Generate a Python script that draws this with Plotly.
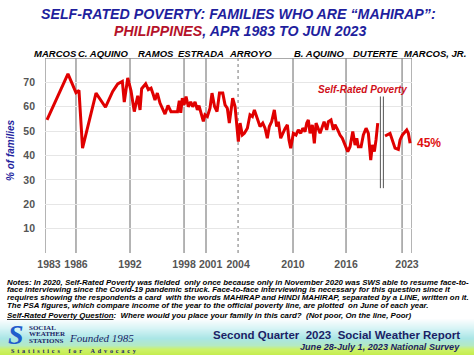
import plotly.graph_objects as go

# ---------------- data ----------------
years = [1983.47, 1985.77, 1986.65, 1986.98, 1987.37, 1988.85, 1989.89, 1990.68, 1991.23, 1991.74,
         1991.95, 1992.33, 1992.69, 1993.05, 1993.43, 1993.68, 1993.86, 1994.30, 1994.59, 1994.89,
         1995.14, 1995.32, 1995.58, 1995.87, 1996.42, 1996.75, 1997.08, 1997.41, 1997.79, 1997.99,
         1998.15, 1998.32, 1998.51, 1998.73, 1998.98, 1999.24, 1999.46, 1999.72, 1999.97, 2000.15,
         2000.37, 2000.63, 2000.81, 2001.07, 2001.36, 2001.58, 2001.86, 2002.13, 2002.40, 2002.76,
         2003.01, 2003.26, 2003.48, 2003.85, 2004.11, 2004.29, 2004.47, 2004.66, 2004.91, 2005.13,
         2005.46, 2005.75, 2006.01, 2006.23, 2006.49, 2006.85, 2007.15, 2007.40, 2007.65, 2007.87,
         2008.13, 2008.42, 2008.68, 2008.86, 2009.12, 2009.34, 2009.59, 2009.85, 2010.03, 2010.22,
         2010.51, 2010.80, 2011.05, 2011.32, 2011.54, 2011.79, 2011.98, 2012.15, 2012.34, 2012.59,
         2012.81, 2013.00, 2013.18, 2013.44, 2013.88, 2014.17, 2014.35, 2014.64, 2014.90, 2015.08,
         2015.38, 2015.63, 2015.88, 2016.18, 2016.48, 2016.73, 2017.03, 2017.28, 2017.47, 2017.64,
         2017.94, 2018.19, 2018.49, 2018.74, 2019.00, 2019.18, 2019.40, 2019.58, 2019.77, 2020.20,
         2020.57, 2021.12, 2021.67, 2022.03, 2022.22, 2022.47, 2022.95, 2023.13, 2023.32]

self_rated_poverty = [54.6, 73.5, 65.8, 66.7, 43, 65.6, 59.8, 66.3, 69.4, 70.4,
                      61.9, 71.8, 66.5, 58, 64.5, 58.7, 67.4, 69.4, 67, 67.6,
                      64.9, 62.8, 65.6, 61.5, 57, 60.5, 58, 58, 58, 62.5,
                      57.5, 63.5, 60.8, 64.2, 60, 62, 60, 62, 58.7, 60.5,
                      57.5, 54, 56.7, 56, 59.4, 65.6, 60.1, 58, 65.6, 65.6,
                      60.8, 59.4, 53.3, 63.5, 60.1, 52.6, 45.7, 53.3, 48.4, 49.1,
                      51.2, 56.7, 56, 58.7, 56, 51.9, 53.3, 51.2, 47.1, 51.9,
                      53.9, 58.7, 51.9, 53.9, 47.1, 49.1, 51, 52.6, 46.4, 43,
                      49.1, 48.4, 50.5, 49.1, 51.2, 49.8, 53.3, 54.6, 49.1, 52.6,
                      45, 53.3, 51.2, 49.1, 53.9, 50.5, 53.9, 54.6, 50.5, 52.6,
                      50.5, 48.4, 47.1, 44.3, 41.6, 43.6, 49.8, 44.3, 47.1, 43.6,
                      43.6, 48.4, 51.2, 49.1, 38.1, 44.3, 41.6, 46.4, 53.3, None,
                      48, 49.1, 43, 42.5, 46.4, 48.4, 50.5, 49.1, 45]

axis_start, axis_end = 1983.25, 2023.53
term_starts = [1986.65, 1992.58, 1998.51, 2000.92, 2010.47, 2016.29, 2022.44]
arroyo_second_term = 2004.44
covid_break = [2020.06, 2020.39]
covid_break_span = [26.6, 64.2]

tick_vals = [1983.69, 1986.65, 1992.58, 1998.51, 2001.42, 2004.44, 2010.47, 2016.29, 2022.98]
tick_text = ["1983", "1986", "1992", "1998", "2001", "2004", "2010", "2016", "2023"]
y_ticks = [10, 20, 30, 40, 50, 60, 70]

presidents = ["MARCOS", "C. AQUINO", "RAMOS", "ESTRADA", "ARROYO", "B. AQUINO", "DUTERTE", "MARCOS, JR."]
president_px = [55.5, 102.5, 156, 201, 250, 319, 375, 435]

notes = [
    "Notes: In 2020, Self-Rated Poverty was fielded  only once because only in November 2020 was SWS able to resume face-to-",
    "face interviewing since the Covid-19 pandemic struck. Face-to-face interviewing is necessary for this question since it",
    "requires showing the respondents a card  with the words MAHIRAP and HINDI MAHIRAP, separated by a LINE, written on it.",
    "The PSA figures, which compare income of the year to the official poverty line, are plotted  on June of each year.",
]

# ---------------- layout helpers ----------------
W, H = 474, 355
L, R, T, B = 45, 62, 58, 102
PW, PH = W - L - R, H - T - B
FONT = "Liberation Sans, Arial, sans-serif"
SERIF = "Liberation Serif, Times New Roman, serif"
RED = "#e00000"
BLUE = "#1f1f9e"
NAVY = "#1b1f66"


def px(x, y):
    return (x - L) / PW, (T + PH - y) / PH


annotations = []


def text(x, y, s, size, color="black", xanchor="center", family=FONT, yanchor="middle", angle=0):
    xp, yp = px(x, y)
    annotations.append(dict(x=xp, y=yp, xref="paper", yref="paper", text=s, showarrow=False,
                            xanchor=xanchor, yanchor=yanchor, textangle=angle,
                            font=dict(size=size, color=color, family=family)))


fig = go.Figure()
fig.add_trace(go.Scatter(x=years, y=self_rated_poverty, mode="lines",
                         line=dict(color=RED, width=3), connectgaps=False,
                         hoverinfo="skip", showlegend=False))

shapes = []
# presidency boxes
for xv in [axis_start] + term_starts + [axis_end]:
    shapes.append(dict(type="line", xref="x", yref="y", x0=xv, x1=xv, y0=0, y1=80,
                       line=dict(color="#8c8c8c", width=1.3), layer="below"))
shapes.append(dict(type="line", xref="x", yref="y", x0=axis_start, x1=axis_end, y0=80, y1=80,
                   line=dict(color="#8c8c8c", width=1.3), layer="below"))
shapes.append(dict(type="line", xref="x", yref="y", x0=arroyo_second_term, x1=arroyo_second_term,
                   y0=0, y1=80, line=dict(color="#8c8c8c", width=1.2, dash="dot"), layer="below"))
for xv in covid_break:
    shapes.append(dict(type="line", xref="x", yref="y", x0=xv, x1=xv,
                       y0=covid_break_span[0], y1=covid_break_span[1],
                       line=dict(color="#555555", width=1)))

# footer gradient band
stops = [(318, (255, 255, 255)), (328, (215, 244, 246)), (338, (170, 230, 230)),
         (345, (180, 234, 196)), (349, (205, 242, 105)), (355, (196, 236, 76))]
for i in range(len(stops) - 1):
    (y0, c0), (y1, c1) = stops[i], stops[i + 1]
    for yy in range(y0, y1):
        t = (yy - y0) / (y1 - y0)
        c = tuple(int(c0[k] + (c1[k] - c0[k]) * t) for k in range(3))
        a0 = px(0, yy + 1)
        a1 = px(W, yy)
        shapes.append(dict(type="rect", xref="paper", yref="paper", x0=a0[0], x1=a1[0],
                           y0=a0[1], y1=a1[1], fillcolor="rgb(%d,%d,%d)" % c,
                           line=dict(width=0), layer="below"))

# titles
text(238, 14, "<b><i>SELF-RATED POVERTY: FAMILIES WHO ARE “MAHIRAP”:</i></b>", 14.2, BLUE)
text(240, 31, "<b><i><span style='color:#b5122a'>PHILIPPINES</span>, APR 1983 TO JUN 2023</i></b>", 14.2, BLUE)

for name, xp in zip(presidents, president_px):
    text(xp, 53, "<b><i>" + name + "</i></b>", 9.5)

text(10, 150, "<b><i>% of families</i></b>", 10, BLUE, angle=-90)
text(362, 89, "<b><i>Self-Rated Poverty</i></b>", 10, "#d0101a")
text(415, 143, "<b>45%</b>", 12, "#e01010", xanchor="left")

for i, line in enumerate(notes):
    text(5, 282 + i * 7.7, "<b><i>" + line + "</i></b>", 7.9, xanchor="left")
text(5, 315.5, "<b><i><u>Self-Rated Poverty Question</u>:  Where would you place your family in this card?  "
     "(Not poor, On the line, Poor)</i></b>", 7.9, xanchor="left")

# footer
sep = "\u00a0\u2009"
motto = (sep + "\u00a0\u00a0" + sep).join(sep.join(word) for word in ["Statistics", "for", "Advocacy"])
text(16, 334, "<b><i>S</i></b>", 28, "#1f5ccc", family=SERIF)
text(27, 327.5, "<b>SOCIAL</b>", 7, NAVY, xanchor="left", family=SERIF)
text(27, 334, "<b>WEATHER</b>", 7, NAVY, xanchor="left", family=SERIF)
text(27, 340.5, "<b>STATIONS</b>", 7, NAVY, xanchor="left", family=SERIF)
text(67, 338, "<i>Founded 1985</i>", 11, NAVY, xanchor="left", family=SERIF)
text(9, 350, "<b>" + motto + "</b>", 6.2, NAVY, xanchor="left", family=SERIF)
text(462, 335, "<b>Second Quarter  2023  Social Weather Report</b>", 11.5, NAVY, xanchor="right")
text(462, 347, "<b><i>June 28-July 1, 2023 National Survey</i></b>", 9.1, NAVY, xanchor="right")

fig.update_layout(
    width=W, height=H, margin=dict(l=L, r=R, t=T, b=B, pad=0),
    paper_bgcolor="white", plot_bgcolor="white",
    shapes=shapes, annotations=annotations, showlegend=False,
    font=dict(family=FONT),
    xaxis=dict(range=[axis_start, axis_end], tickvals=tick_vals, ticktext=tick_text,
               showgrid=False, zeroline=False, showline=False, ticks="",
               tickfont=dict(size=10.5, color="#555555", family=FONT, weight="bold"),
               ticklabelstandoff=3, fixedrange=True),
    yaxis=dict(range=[0, 80], tickvals=y_ticks, showgrid=True, gridcolor="#e6e6e6", gridwidth=1,
               zeroline=False, showline=False, ticks="",
               tickfont=dict(size=10.5, color="#555555", family=FONT, weight="bold"),
               ticklabelstandoff=9, fixedrange=True),
)

fig.write_html("out.html", config={"displayModeBar": False},
               post_script="document.body.style.margin='0';document.body.style.padding='0';")
